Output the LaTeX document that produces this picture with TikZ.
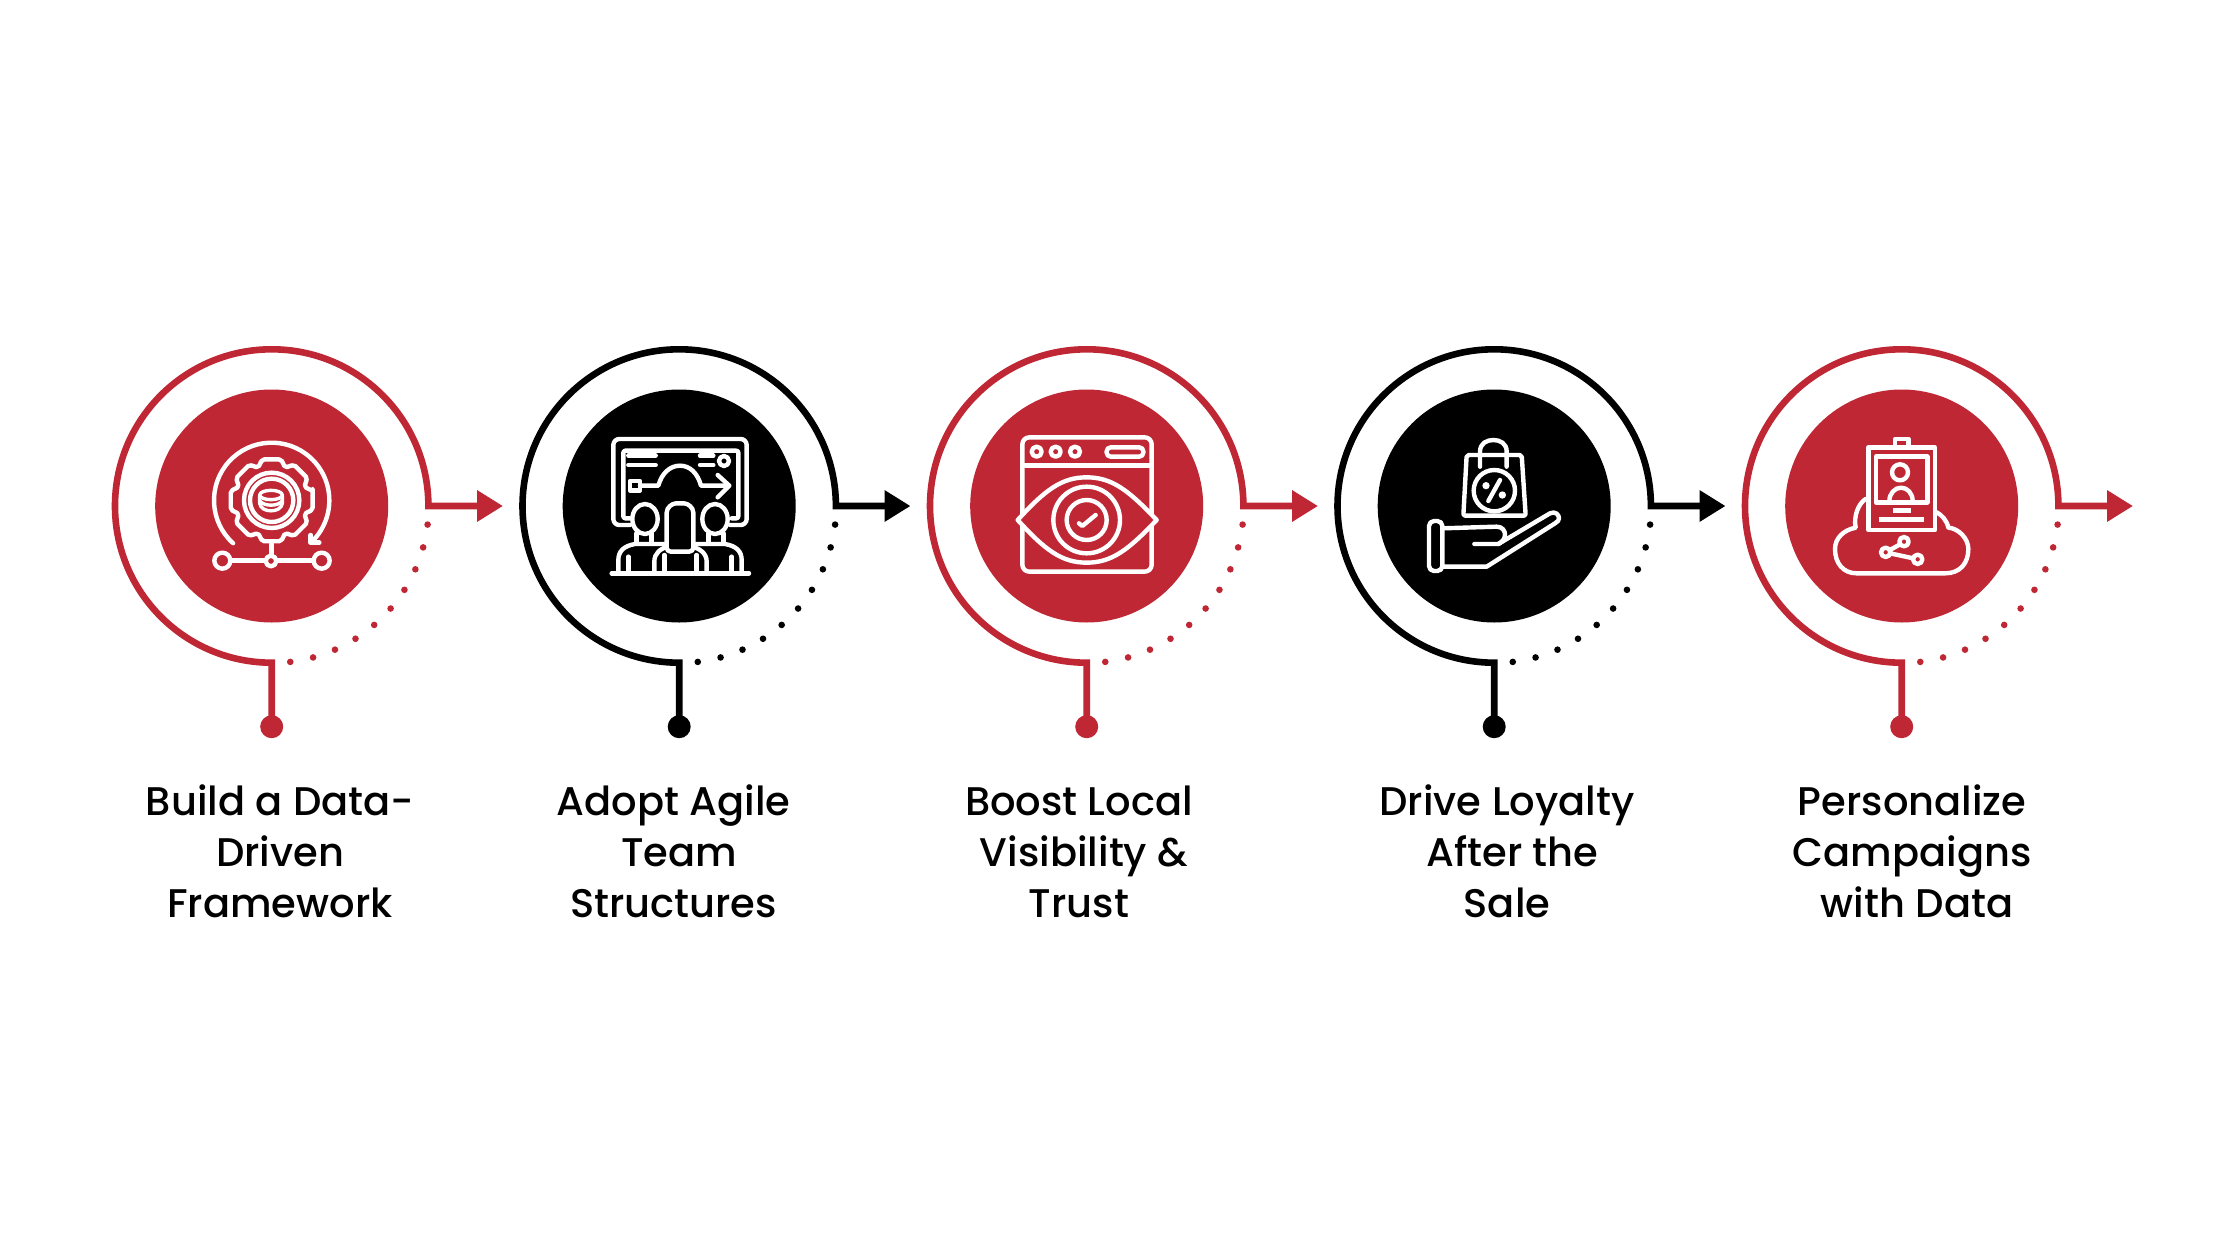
\documentclass[tikz,border=0pt]{standalone}
\usepackage{fontspec}
\setmainfont{Poppins}[UprightFont=* Medium]
\usetikzlibrary{arrows.meta,calc}
\definecolor{brandred}{RGB}{190,39,51}
\tikzset{
  ringline/.style={line width=6.6pt,miter limit=10,-{Triangle[length=26pt,width=30pt]}},
  disc/.style={circle,minimum size=233pt,inner sep=0pt,fill=#1},
  enddot/.style={circle,minimum size=23pt,inner sep=0pt,fill=#1},
  lbl/.style={align=center,inner sep=0pt,text=black,font=\fontsize{40}{51}\selectfont},
  ico/.style={draw=white,line width=4.4pt,line join=round,line cap=round},
  icon/.style={shift={#1},scale=0.33333}
}
\newcommand{\ringstep}[3]{%
  \coordinate (c#1) at (#2,506);
  \node[disc=#3] (d#1) at (c#1) {};
  \node[enddot=#3] (e#1) at (#2,726.7) {};
  \coordinate (t#1) at (#2+231.3,506);
  \draw[ringline,draw=#3] (e#1.center) -- (#2,662.7) arc (90:360:156.7) -- (t#1);
  \foreach \i in {0,...,9}{\fill[#3] ($(c#1)+({6.8+8.49*\i}:157)$) circle (3.3);}
}
\begin{document}
\begin{tikzpicture}[x=1pt,y=1pt,yscale=-1]
\useasboundingbox (0,0) rectangle (2240,1260);
\fill[white] (0,0) rectangle (2240,1260);
\ringstep{1}{271.7}{brandred}
\ringstep{2}{679.2}{black}
\ringstep{3}{1086.7}{brandred}
\ringstep{4}{1494.2}{black}
\ringstep{5}{1901.7}{brandred}

\node[lbl] (l1) at (280,851.2) {Build a Data-\\Driven\\Framework};
\node[lbl] (l2) at (673.5,851.2) {Adopt Agile\\\hspace*{11pt}Team\\Structures};
\node[lbl] (l3) at (1079,852) {Boost Local\\\hspace*{10pt}Visibility \&\\Trust};
\node[lbl] (l4) at (1507,851.2) {Drive Loyalty\\\hspace*{11pt}After the\\Sale};
\node[lbl] (l5) at (1912,851.2) {Personalize\\Campaigns\\\hspace*{10pt}with Data};

% icon 1
\begin{scope}[icon={(190,420)},ico]
  \draw (245,241) ++(132:173) arc (132:404:173);
  \draw (362,345) -- (362,368) -- (388,368);
  \draw[rounded corners=2pt] ($(245,241)+(-13:126)$)
    \foreach \a in {0,45,...,315}{ -- ($(245,241)+(\a-13:126)$) -- ($(245,241)+(\a+13:126)$) -- ($(245,241)+(\a+22.5:106)$)} -- cycle;
  \draw (245,241) circle (83);
  \draw (245,241) circle (65);
  \begin{scope}[line width=3.4pt]
  \draw (243,225) ellipse (34 and 14);
  \draw (209,227) -- (209,250) .. controls (213,280) and (273,280) .. (277,250) -- (277,227);
  \draw (209,242) .. controls (221,260) and (265,260) .. (277,242);
  \end{scope}
  \draw (245,372) -- (245,423);
  \draw (97,422) -- (395,422);
  \filldraw[fill=brandred] (97,422) circle (24);
  \filldraw[fill=brandred] (395,422) circle (24);
  \filldraw[fill=brandred] (243,423) circle (16);
\end{scope}

% icon 2
\begin{scope}[icon={(595,420)},ico]
  \draw[rounded corners=6pt] (105,315) -- (55,315) -- (55,57) -- (455,57) -- (455,315) -- (405,315);
  \draw[rounded corners=2pt] (105,295) -- (85,295) -- (85,92) -- (430,92) -- (430,295) -- (410,295);
  \draw (100,107) -- (182,107) (100,135) -- (182,135) (315,107) -- (355,107) (315,135) -- (355,135);
  \draw (387,123) circle (15);
  \draw (105,183) rectangle (135,212);
  \draw (135,197) -- (190,197) .. controls (200,160) and (225,137) .. (255,137) .. controls (285,137) and (308,160) .. (318,197) -- (400,197);
  \draw (368,165) -- (403,197) -- (368,232);
  \draw (125,340) -- (125,365) (170,340) -- (170,365) (340,340) -- (340,365) (385,340) -- (385,365);
  \draw[fill=black] (150,297) ellipse (38 and 45);
  \draw[fill=black] (360,297) ellipse (38 and 45);
  \draw (210,372) -- (120,372) .. controls (85,378) and (70,395) .. (70,420) -- (70,458);
  \draw (300,372) -- (390,372) .. controls (425,378) and (440,395) .. (440,420) -- (440,458);
  \draw (100,410) -- (100,458) (410,410) -- (410,458);
  \draw[fill=black] (178,458) -- (178,425) .. controls (178,400) and (195,385) .. (225,378) -- (285,378) .. controls (315,385) and (335,400) .. (335,425) -- (335,458);
  \draw (208,405) -- (208,458) (305,405) -- (305,458);
  \draw[fill=black,rounded corners=4pt] (215,395) -- (215,290) .. controls (215,262) and (232,250) .. (255,250) .. controls (278,250) and (295,262) .. (295,290) -- (295,395) -- cycle;
  \draw (50,460) -- (462,460);
\end{scope}

% icon 3
\begin{scope}[icon={(1005,420)},ico]
  \draw[rounded corners=7pt] (52,52) rectangle (440,455);
  \draw (55,137) -- (438,137);
  \draw (95,95) circle (15) (152,95) circle (15) (210,95) circle (15);
  \draw[rounded corners=4pt] (305,82) rectangle (415,110);
  \draw[fill=brandred] (38,300) .. controls (120,210) and (170,172) .. (245,172) .. controls (320,172) and (370,210) .. (455,300) .. controls (370,390) and (320,428) .. (245,428) .. controls (170,428) and (120,390) .. (38,300) -- cycle;
  \draw (245,300) circle (100);
  \draw (245,300) circle (60);
  \draw (222,310) -- (232,318) -- (272,285);
\end{scope}

% icon 4
\begin{scope}[icon={(1415,425)},ico]
  \draw[rounded corners=2pt] (155,90) -- (320,90) -- (332,272) -- (145,272) -- cycle;
  \draw (195,125) -- (195,80) .. controls (195,55) and (215,45) .. (235,45) .. controls (255,45) and (275,55) .. (275,80) -- (275,125);
  \draw (238,197) circle (62);
  \draw (220,228) -- (255,165);
  \fill[white] (213,182) circle (11) (262,210) circle (11);
  \draw[rounded corners=5pt] (42,288) rectangle (82,438);
  \draw (82,310) -- (245,305) .. controls (262,305) and (270,318) .. (270,328) .. controls (270,342) and (262,350) .. (250,357) -- (178,357);
  \draw (250,357) -- (405,265) .. controls (420,258) and (432,268) .. (432,280) .. controls (432,286) and (428,290) .. (420,295) -- (215,425) -- (82,425);
\end{scope}

% icon 5
\begin{scope}[icon={(1820,425)},ico]
  \draw (137,222) .. controls (115,235) and (100,275) .. (107,308) .. controls (70,315) and (45,340) .. (45,372) .. controls (45,415) and (70,445) .. (110,445) -- (375,445) .. controls (420,445) and (445,415) .. (445,372) .. controls (445,340) and (415,310) .. (385,308) .. controls (380,285) and (365,270) .. (350,262);
  \draw (145,68) rectangle (345,315);
  \draw (225,65) -- (225,42) -- (265,42) -- (265,65);
  \draw (168,95) rectangle (322,232);
  \draw (240,142) circle (24);
  \draw (208,228) .. controls (208,205) and (225,188) .. (243,188) .. controls (262,188) and (278,205) .. (278,228);
  \draw[line cap=butt] (218,257) -- (272,257) (178,283) -- (312,283);
  \draw (210,375) -- (240,358) (210,385) -- (280,400);
  \draw (252,350) circle (14) (197,382) circle (14) (293,403) circle (14);
\end{scope}
\end{tikzpicture}
\end{document}
